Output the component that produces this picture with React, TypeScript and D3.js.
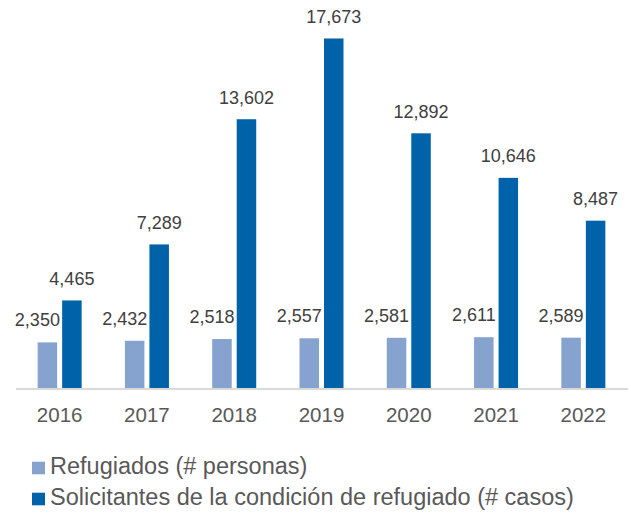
import React from "react";
import * as d3 from "d3";

const years = ["2016", "2017", "2018", "2019", "2020", "2021", "2022"];
const refugiados = [2350, 2432, 2518, 2557, 2581, 2611, 2589];
const solicitantes = [4465, 7289, 13602, 17673, 12892, 10646, 8487];
const legendLabels = [
  "Refugiados (# personas)",
  "Solicitantes de la condición de refugiado (# casos)",
];
const colors = ["#86a2cf", "#0062a8"];

const W = 631;
const H = 513;
const FONT = "'Liberation Sans', Arial, sans-serif";

export default function App() {
  const x = d3.scaleBand<string>().domain(years).range([16, 627]).padding(0);
  const y = d3.scaleLinear().domain([0, 18000]).range([389, 32]);
  const bw = 19.5;
  const gap = 2.5;
  const fmt = d3.format(",");
  const baseline = y(0);

  return (
    <svg
      width={W}
      height={H}
      style={{ position: "absolute", left: 0, top: 0, background: "#fff" }}
      fontFamily={FONT}
    >
      {years.map((yr, i) => {
        const c = (x(yr) as number) + x.bandwidth() / 2;
        const lx = c - gap - bw;
        const dx = c + gap;
        const lv = refugiados[i];
        const dv = solicitantes[i];
        return (
          <g key={yr}>
            <rect x={lx} y={y(lv)} width={bw} height={baseline - y(lv)} fill={colors[0]} />
            <rect x={dx} y={y(dv)} width={bw} height={baseline - y(dv)} fill={colors[1]} />
            <text
              x={lx + bw / 2 - 10}
              y={y(lv) - 16}
              textAnchor="middle"
              fontSize={18}
              fill="#404040"
            >
              {fmt(lv)}
            </text>
            <text
              x={dx + bw / 2}
              y={y(dv) - 15.5}
              textAnchor="middle"
              fontSize={18}
              fill="#404040"
            >
              {fmt(dv)}
            </text>
            <text x={c} y={421.5} textAnchor="middle" fontSize={20.5} fill="#595959">
              {yr}
            </text>
          </g>
        );
      })}
      <line x1={16} x2={628} y1={baseline} y2={baseline} stroke="#d9d9d9" strokeWidth={2} />
      {legendLabels.map((l, i) => (
        <g key={l} transform={`translate(32, ${461.7 + i * 31})`}>
          <rect x={0} y={0} width={13} height={12.6} fill={colors[i]} />
          <text x={18} y={12.6} fontSize={23.5} fill="#595959">
            {l}
          </text>
        </g>
      ))}
    </svg>
  );
}
